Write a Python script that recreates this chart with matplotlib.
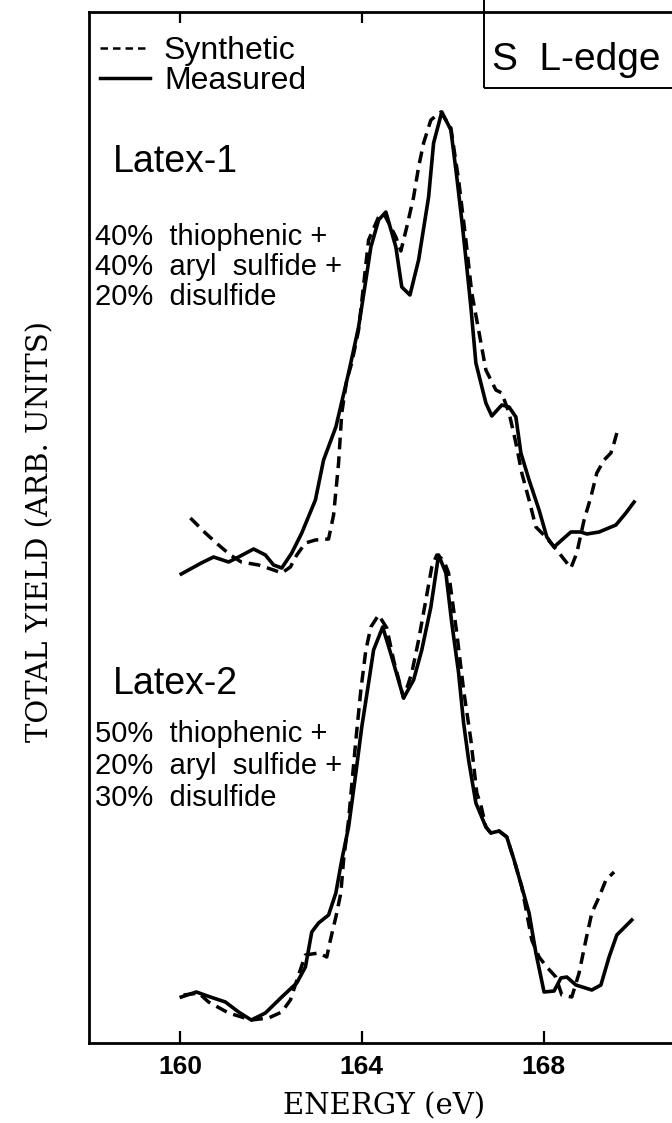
import matplotlib
matplotlib.use('Agg')
import matplotlib.pyplot as plt
from matplotlib.lines import Line2D
from matplotlib.patches import Rectangle

# energies (eV) and yields (arb. units)
e1_meas = [160.03, 160.47, 160.74, 161.07, 161.29, 161.62, 161.88, 162.06, 162.24, 162.46,
           162.68, 162.98, 163.16, 163.43, 163.71, 163.93, 164.09, 164.20, 164.37, 164.53,
           164.75, 164.88, 165.06, 165.25, 165.47, 165.58, 165.76, 165.96, 166.09, 166.20,
           166.31, 166.40, 166.51, 166.73, 166.86, 167.08, 167.24, 167.39, 167.50, 167.68,
           167.90, 168.07, 168.23, 168.45, 168.60, 168.82, 168.95, 169.22, 169.59, 169.81, 169.99]
y1_meas = [46.9, 48.0, 48.6, 48.1, 48.6, 49.4, 48.8, 47.8, 47.5, 49.0,
           51.0, 54.3, 58.3, 61.6, 67.0, 71.6, 76.3, 79.6, 82.3, 83.1,
           79.6, 75.6, 74.8, 78.3, 84.6, 90.0, 93.1, 91.3, 86.6, 82.3,
           77.6, 73.6, 68.0, 64.0, 62.7, 63.8, 63.6, 62.6, 59.0, 56.3,
           53.3, 50.6, 49.6, 50.5, 51.1, 51.1, 50.9, 51.1, 51.8, 53.0, 54.1]

e1_syn = [160.23, 160.56, 160.85, 161.11, 161.35, 161.73, 162.06, 162.24, 162.43, 162.57,
          162.76, 162.98, 163.27, 163.38, 163.49, 163.56, 163.67, 163.78, 163.93, 164.15,
          164.37, 164.48, 164.75, 164.86, 164.99, 165.14, 165.25, 165.36, 165.52, 165.74,
          165.96, 166.13, 166.29, 166.42, 166.57, 166.73, 166.95, 167.08, 167.24, 167.39,
          167.52, 167.68, 167.83, 168.05, 168.34, 168.60, 168.73, 168.89, 169.04, 169.17,
          169.33, 169.48, 169.55, 169.61]
y1_syn = [52.5, 51.0, 49.8, 48.8, 48.1, 47.8, 47.3, 47.0, 47.6, 48.8,
          50.0, 50.3, 50.4, 52.8, 58.0, 63.0, 66.3, 68.0, 71.3, 80.3,
          82.6, 83.0, 80.6, 79.2, 81.6, 84.6, 87.6, 90.0, 92.3, 93.1,
          91.5, 86.3, 80.3, 75.0, 71.3, 67.3, 65.3, 65.0, 63.0, 60.0,
          57.0, 54.3, 51.6, 50.6, 49.0, 47.5, 49.0, 52.3, 54.6, 57.0,
          58.3, 59.0, 60.0, 61.0]

e2_meas = [160.03, 160.36, 160.67, 161.00, 161.29, 161.57, 161.88, 162.24, 162.57, 162.76,
           162.90, 163.05, 163.27, 163.43, 163.56, 163.71, 163.87, 164.00, 164.15, 164.26,
           164.46, 164.66, 164.92, 165.14, 165.32, 165.52, 165.69, 165.85, 165.98, 166.13,
           166.24, 166.35, 166.51, 166.73, 166.84, 167.02, 167.19, 167.35, 167.52, 167.68,
           167.83, 168.01, 168.23, 168.38, 168.51, 168.71, 169.06, 169.26, 169.44, 169.61, 169.94]
y2_meas = [4.6, 5.1, 4.6, 4.1, 3.1, 2.3, 3.0, 4.6, 6.0, 7.6,
           11.1, 12.0, 12.8, 15.0, 18.3, 21.6, 27.0, 31.6, 36.0, 39.3,
           41.6, 38.6, 34.5, 36.3, 39.3, 43.6, 48.8, 47.0, 42.0, 37.0,
           32.0, 28.3, 24.0, 21.6, 21.0, 21.2, 20.6, 18.3, 15.6, 13.0,
           9.0, 5.1, 5.2, 6.5, 6.6, 5.8, 5.3, 5.8, 8.6, 10.8, 12.3]

e2_syn = [160.08, 160.41, 160.63, 161.07, 161.57, 161.95, 162.24, 162.43, 162.61, 162.76,
          163.05, 163.23, 163.31, 163.43, 163.54, 163.60, 163.71, 163.87, 163.98, 164.09,
          164.20, 164.37, 164.55, 164.70, 164.92, 165.10, 165.25, 165.41, 165.54, 165.65,
          165.80, 165.91, 166.09, 166.24, 166.40, 166.53, 166.62, 166.73, 166.84, 167.02,
          167.19, 167.35, 167.52, 167.74, 167.90, 168.07, 168.27, 168.40, 168.62, 168.78,
          168.93, 169.06, 169.22, 169.37, 169.55]
y2_syn = [4.8, 5.0, 4.1, 3.0, 2.3, 2.5, 3.1, 4.3, 6.8, 8.8,
          9.0, 8.6, 10.3, 12.6, 15.0, 18.3, 22.3, 30.3, 35.3, 39.3,
          41.6, 42.8, 41.5, 38.3, 34.5, 37.0, 40.3, 44.3, 47.6, 48.8,
          48.3, 47.0, 41.0, 35.3, 30.3, 25.0, 23.8, 21.6, 21.0, 21.2,
          20.6, 18.3, 15.6, 10.3, 8.6, 7.6, 6.6, 4.8, 4.6, 7.0,
          10.3, 13.0, 14.6, 16.3, 17.1]

xticks = [160, 164, 168]
samples = ['Latex-1', 'Latex-2']
mixes = [['40%  thiophenic +', '40%  aryl  sulfide +', '20%  disulfide'],
         ['50%  thiophenic +', '20%  aryl  sulfide +', '30%  disulfide']]

W, H = 672, 1123
fig = plt.figure(figsize=(W / 100, H / 100), dpi=100)
ax = fig.add_axes([89 / W, 80 / H, 591 / W, 1031 / H])

dash = (0, (3.4, 2.0))
ax.plot(e1_syn, y1_syn, color='black', lw=2.5, ls=dash)
ax.plot(e1_meas, y1_meas, color='black', lw=2.6)
ax.plot(e2_syn, y2_syn, color='black', lw=2.5, ls=dash)
ax.plot(e2_meas, y2_meas, color='black', lw=2.6)

ax.set_xlim(158, 171)
ax.set_ylim(0, 103.1)
ax.set_xticks(xticks)
ax.set_xticklabels([str(t) for t in xticks], fontsize=19, fontweight='bold',
                   family='Liberation Sans')
ax.set_yticks([])
ax.tick_params(axis='x', direction='in', length=9, width=1.6, pad=9)
for s in ax.spines.values():
    s.set_linewidth(2.0)

top = ax.secondary_xaxis('top')
top.set_xticks(xticks[:2])
top.set_xticklabels([])
top.tick_params(direction='in', length=8, width=1.6)
top.spines['top'].set_visible(False)

ax.set_xlabel('ENERGY (eV)', family='DejaVu Serif', fontsize=21, labelpad=9)
fig.text(40 / W, 1 - 532 / H, 'TOTAL YIELD (ARB. UNITS)', family='DejaVu Serif',
         fontsize=21, rotation=90, ha='center', va='center')

# S L-edge box
ax.add_patch(Rectangle((484 / W, 1 - 88 / H), 300 / W, 100 / H, transform=fig.transFigure,
                       fill=False, lw=1.4, ec='black', clip_on=False))
fig.text(492 / W, 1 - 70 / H, 'S  L-edge', family='Liberation Sans', fontsize=28,
         ha='left', va='baseline')

handles = [Line2D([], [], color='black', lw=1.8, ls=(0, (3, 2))),
           Line2D([], [], color='black', lw=2.5)]
fig.legend(handles, ['Synthetic', 'Measured'], loc='upper left',
           bbox_to_anchor=(100 / W, 1 - 36 / H), frameon=False, borderpad=0,
           borderaxespad=0, handlelength=1.55, handletextpad=0.45, labelspacing=0.0,
           prop={'family': 'Liberation Sans', 'size': 23})

label_y = [172, 694]
mix_y = [[245, 275, 305], [742, 774, 806]]
for name, ly, lines, ys in zip(samples, label_y, mixes, mix_y):
    fig.text(113 / W, 1 - ly / H, name, family='Liberation Sans', fontsize=27,
             ha='left', va='baseline')
    for txt, yy in zip(lines, ys):
        fig.text(95 / W, 1 - yy / H, txt, family='Liberation Sans', fontsize=21,
                 ha='left', va='baseline')

fig.savefig('out.png', dpi=100)
